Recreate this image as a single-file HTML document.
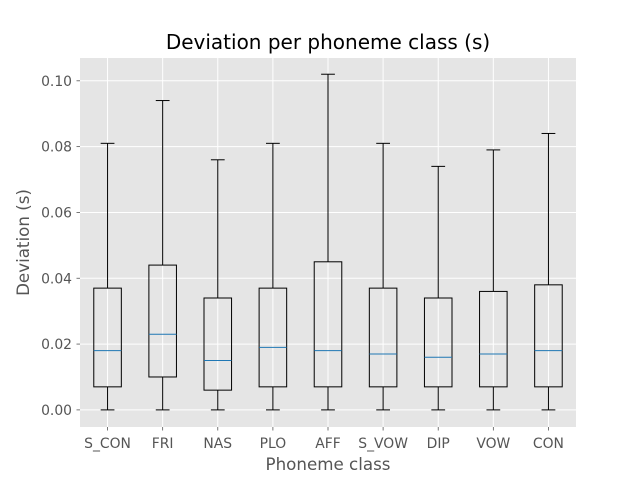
<!DOCTYPE html>
<html><head><meta charset="utf-8"><style>
body{margin:0;background:#fff;}
svg{display:block;font-family:"DejaVu Sans","Liberation Sans",sans-serif;}
</style></head><body>
<svg id="chart" width="640" height="480"></svg>
<script>
const categories=["S_CON","FRI","NAS","PLO","AFF","S_VOW","DIP","VOW","CON"];
const mins=[0,0,0,0,0,0,0,0,0];
const q1s=[0.007,0.010,0.006,0.007,0.007,0.007,0.007,0.007,0.007];
const medians=[0.018,0.023,0.015,0.019,0.018,0.017,0.016,0.017,0.018];
const q3s=[0.037,0.044,0.034,0.037,0.045,0.037,0.034,0.036,0.038];
const maxs=[0.081,0.094,0.076,0.081,0.102,0.081,0.074,0.079,0.084];
const yTicks=[0,0.02,0.04,0.06,0.08,0.10];
const yTickLabels=["0.00","0.02","0.04","0.06","0.08","0.10"];

const L=80,R=576,T=58,B=427;
const yMin=-0.0052,yMax=0.10693;
const NS="http://www.w3.org/2000/svg";
const svg=document.getElementById('chart');
function y(v){return B-(v-yMin)/(yMax-yMin)*(B-T);}
function x(i){return L+(i+0.5)/categories.length*(R-L);}
const bw=(R-L)/categories.length;
function mk(tag,attrs,parent){const e=document.createElementNS(NS,tag);for(const k in attrs)e.setAttribute(k,attrs[k]);(parent||svg).appendChild(e);return e;}

const bg=mk('rect',{x:L,y:T,width:R-L,height:B-T,fill:'#E5E5E5'});



yTicks.forEach((v,i)=>{
  const g=mk('line',{x1:L,x2:R,y1:y(v),y2:y(v),stroke:'#fff','stroke-width':1});
  
  
  mk('line',{x1:L-3.5,x2:L,y1:y(v),y2:y(v),stroke:'#555','stroke-width':0.8});
  const t=mk('text',{x:L-8,y:y(v)+5,'text-anchor':'end','font-size':13.9,fill:'#555'});
  t.textContent=yTickLabels[i];
  
  
});
categories.forEach((c,i)=>{
  const g=mk('line',{x1:x(i),x2:x(i),y1:T,y2:B,stroke:'#fff','stroke-width':1});
  
  
  mk('line',{x1:x(i),x2:x(i),y1:B,y2:B+3.5,stroke:'#555','stroke-width':0.8});
  const t=mk('text',{x:x(i),y:B+21,'text-anchor':'middle','font-size':13.9,fill:'#555'});
  t.textContent=c;
  
  
});
categories.forEach((c,i)=>{
  const g=mk('g',{});
  
  
  const cx=x(i),hw=bw*0.25,cw=bw*0.125;
  mk('line',{x1:cx,x2:cx,y1:y(q3s[i]),y2:y(maxs[i]),stroke:'#000'},g);
  mk('line',{x1:cx,x2:cx,y1:y(q1s[i]),y2:y(mins[i]),stroke:'#000'},g);
  mk('line',{x1:cx-cw,x2:cx+cw,y1:y(maxs[i]),y2:y(maxs[i]),stroke:'#000'},g);
  mk('line',{x1:cx-cw,x2:cx+cw,y1:y(mins[i]),y2:y(mins[i]),stroke:'#000'},g);
  mk('rect',{x:cx-hw,y:y(q3s[i]),width:2*hw,height:y(q1s[i])-y(q3s[i]),fill:'none',stroke:'#000'},g);
  mk('line',{x1:cx-hw,x2:cx+hw,y1:y(medians[i]),y2:y(medians[i]),stroke:'#1f77b4'},g);
});
const title=mk('text',{x:(L+R)/2,y:49,'text-anchor':'middle','font-size':20,fill:'#000'});
title.textContent='Deviation per phoneme class (s)';


const xl=mk('text',{x:(L+R)/2,y:470,'text-anchor':'middle','font-size':16.7,fill:'#555'});
xl.textContent='Phoneme class';


const yl=mk('text',{x:0,y:0,'text-anchor':'middle','font-size':16.7,fill:'#555',transform:'translate(29,'+((T+B)/2)+') rotate(-90)'});
yl.textContent='Deviation (s)';


</script>
</body></html>
